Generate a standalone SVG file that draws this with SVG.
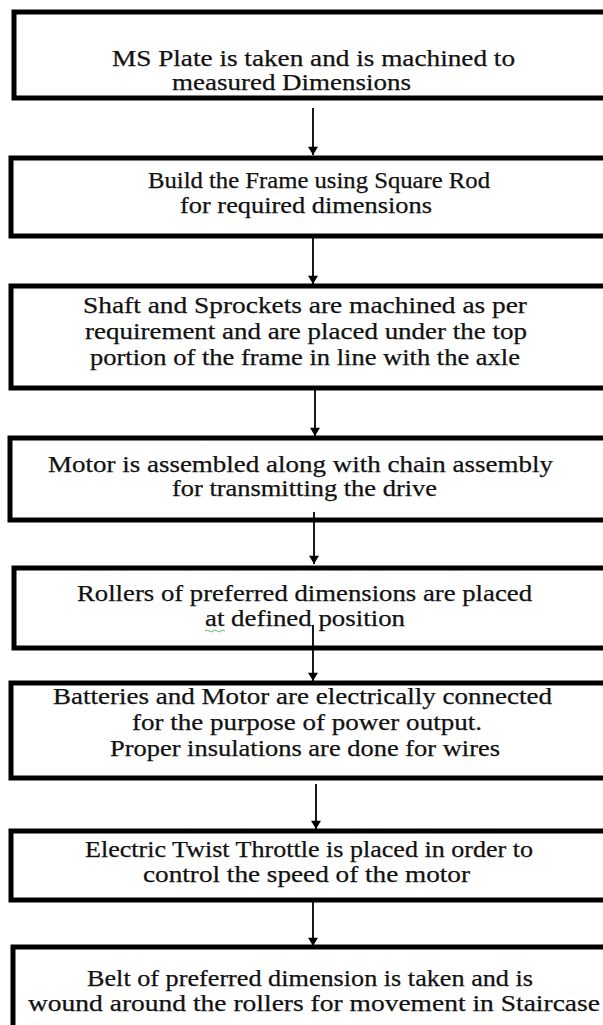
<svg xmlns="http://www.w3.org/2000/svg" width="603" height="1025" viewBox="0 0 603 1025">
<style>
.box{fill:#fff;stroke:#000;stroke-width:5}
.t{font-family:"Liberation Serif","DejaVu Serif",serif;font-size:23px;fill:#111;stroke:#111;stroke-width:0.25;text-anchor:start}
.c{stroke:#000;stroke-width:1.8;fill:none}
</style>
<defs>
<marker id="ah" viewBox="0 0 10 12" refX="10" refY="6" markerWidth="11" markerHeight="10" markerUnits="userSpaceOnUse" orient="auto" overflow="visible">
<path d="M0,0 L10,6 L0,12 Z" fill="#000"/>
</marker>
</defs>
<rect width="603" height="1025" fill="#fff"/>
<g id="n1"><rect class="box" x="14" y="12" width="640" height="86"/>
<text class="t" x="112" y="66" textLength="403" lengthAdjust="spacingAndGlyphs">MS Plate is  taken and is machined to</text>
<text class="t" x="172" y="90" textLength="239" lengthAdjust="spacingAndGlyphs">measured Dimensions</text></g>
<g id="n2"><rect class="box" x="11" y="158" width="640" height="78"/>
<text class="t" x="148" y="188" textLength="342" lengthAdjust="spacingAndGlyphs">Build the Frame using Square Rod</text>
<text class="t" x="180" y="213" textLength="252" lengthAdjust="spacingAndGlyphs">for required dimensions</text></g>
<g id="n3"><rect class="box" x="11" y="286" width="640" height="102"/>
<text class="t" x="83" y="313" textLength="444" lengthAdjust="spacingAndGlyphs">Shaft and Sprockets are machined as per</text>
<text class="t" x="85" y="339" textLength="442" lengthAdjust="spacingAndGlyphs">requirement and are placed under the top</text>
<text class="t" x="90" y="365" textLength="430" lengthAdjust="spacingAndGlyphs">portion of the frame in line with the axle</text></g>
<g id="n4"><rect class="box" x="10" y="438" width="640" height="82"/>
<text class="t" x="48" y="472" textLength="505" lengthAdjust="spacingAndGlyphs">Motor is assembled along with chain assembly</text>
<text class="t" x="172" y="496" textLength="265" lengthAdjust="spacingAndGlyphs">for transmitting the drive</text></g>
<g id="n5"><rect class="box" x="14" y="568" width="640" height="80"/>
<text class="t" x="77" y="601" textLength="455" lengthAdjust="spacingAndGlyphs">Rollers of preferred dimensions are placed</text>
<text class="t" x="205" y="626" textLength="200" lengthAdjust="spacingAndGlyphs">at defined position</text>
<path d="M205,631 q2,-2 4,0 t4,0 t4,0 t4,0 t4,0" fill="none" stroke="#3a3" stroke-width="0.8"/></g>
<g id="n6"><rect class="box" x="11" y="683" width="640" height="95"/>
<text class="t" x="53" y="704" textLength="499" lengthAdjust="spacingAndGlyphs">Batteries and Motor are electrically connected</text>
<text class="t" x="132" y="730" textLength="350" lengthAdjust="spacingAndGlyphs">for the purpose of power output.</text>
<text class="t" x="110" y="756" textLength="390" lengthAdjust="spacingAndGlyphs">Proper insulations are done for wires</text></g>
<g id="n7"><rect class="box" x="11" y="831" width="640" height="69"/>
<text class="t" x="85" y="857" textLength="448" lengthAdjust="spacingAndGlyphs">Electric  Twist  Throttle is placed in order to</text>
<text class="t" x="143" y="882" textLength="327" lengthAdjust="spacingAndGlyphs">control the speed of the motor</text></g>
<g id="n8"><rect class="box" x="13" y="947" width="640" height="100"/>
<text class="t" x="87" y="986" textLength="446" lengthAdjust="spacingAndGlyphs">Belt of preferred dimension is taken and is</text>
<text class="t" x="28" y="1011" textLength="572" lengthAdjust="spacingAndGlyphs">wound around the rollers for movement in Staircase</text></g>
<g id="connectors">
<line class="c" x1="313" y1="108" x2="313" y2="155" marker-end="url(#ah)"/>
<line class="c" x1="313" y1="236" x2="313" y2="284" marker-end="url(#ah)"/>
<line class="c" x1="315" y1="388" x2="315" y2="436" marker-end="url(#ah)"/>
<line class="c" x1="314" y1="512" x2="314" y2="564" marker-end="url(#ah)"/>
<line class="c" x1="313" y1="625" x2="313" y2="681" marker-end="url(#ah)"/>
<line class="c" x1="316" y1="784" x2="316" y2="829" marker-end="url(#ah)"/>
<line class="c" x1="313" y1="900" x2="313" y2="946" marker-end="url(#ah)"/>
</g>
</svg>
